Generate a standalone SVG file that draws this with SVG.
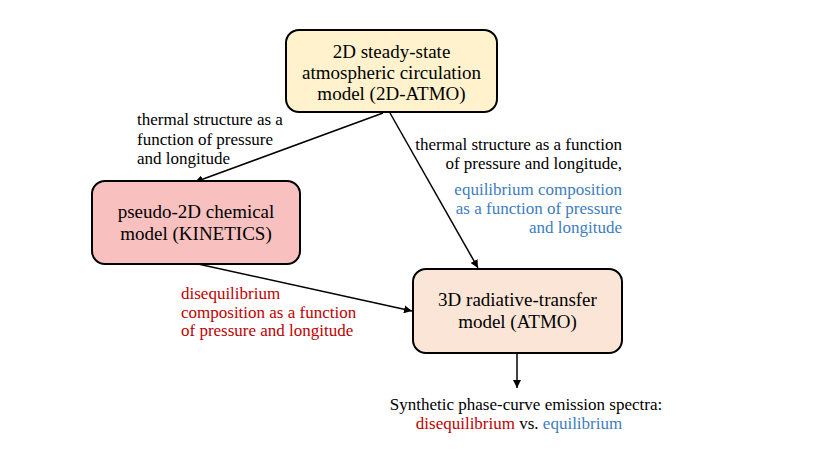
<svg xmlns="http://www.w3.org/2000/svg" width="830" height="467" viewBox="0 0 830 467">
<defs>
<style>
.box{stroke:#000;stroke-width:2}
.t{font-family:"Liberation Serif",serif;font-size:19px;fill:#000;text-anchor:middle}
.l{font-family:"Liberation Serif",serif;font-size:17px;fill:#000}
.red{fill:#C00000}
.blue{fill:#3D7DC0}
.c{stroke:#000;stroke-width:1.5;fill:none;marker-end:url(#ah)}
</style>
<marker id="ah" viewBox="0 0 10 10" refX="10" refY="5" markerWidth="8" markerHeight="8" markerUnits="userSpaceOnUse" orient="auto">
<path d="M0,0 L10,5 L0,10 z" fill="#000"/>
</marker>
</defs>
<rect width="830" height="467" fill="#fff"/>
<g id="connectors">
<line class="c" x1="383" y1="113" x2="195" y2="182"/>
<line class="c" x1="390" y1="113" x2="478" y2="268"/>
<line class="c" x1="198" y1="264" x2="412" y2="311"/>
<line class="c" x1="517" y1="354" x2="517" y2="388"/>
</g>
<g id="atmo2d">
<rect class="box" x="286" y="30" width="211" height="82" rx="13" fill="#FFF2CC"/>
<text class="t" x="391.5" y="58">2D steady-state</text>
<text class="t" x="391.5" y="79">atmospheric circulation</text>
<text class="t" x="391.5" y="100">model (2D-ATMO)</text>
</g>
<g id="kinetics">
<rect class="box" x="92" y="181" width="208" height="83" rx="13" fill="#F8C0BE"/>
<text class="t" x="196" y="218">pseudo-2D chemical</text>
<text class="t" x="196" y="240">model (KINETICS)</text>
</g>
<g id="atmo3d">
<rect class="box" x="413" y="269" width="209" height="84" rx="13" fill="#FBE5D6"/>
<text class="t" x="517.5" y="306">3D radiative-transfer</text>
<text class="t" x="517.5" y="328">model (ATMO)</text>
</g>
<g id="labels">
<text class="l" x="137" y="125">thermal structure as a</text>
<text class="l" x="137" y="145">function of pressure</text>
<text class="l" x="137" y="164">and longitude</text>
<g text-anchor="end">
<text class="l" x="622" y="150">thermal structure as a function</text>
<text class="l" x="622" y="169">of pressure and longitude,</text>
<text class="l blue" x="622" y="195">equilibrium composition</text>
<text class="l blue" x="622" y="214">as a function of pressure</text>
<text class="l blue" x="622" y="233">and longitude</text>
</g>
<text class="l red" x="181" y="299">disequilibrium</text>
<text class="l red" x="181" y="318">composition as a function</text>
<text class="l red" x="181" y="336">of pressure and longitude</text>
<text class="l" x="526" y="410" text-anchor="middle">Synthetic phase-curve emission spectra:</text>
<text class="l" x="519" y="429" text-anchor="middle"><tspan class="red">disequilibrium</tspan> vs. <tspan class="blue">equilibrium</tspan></text>
</g>
</svg>
